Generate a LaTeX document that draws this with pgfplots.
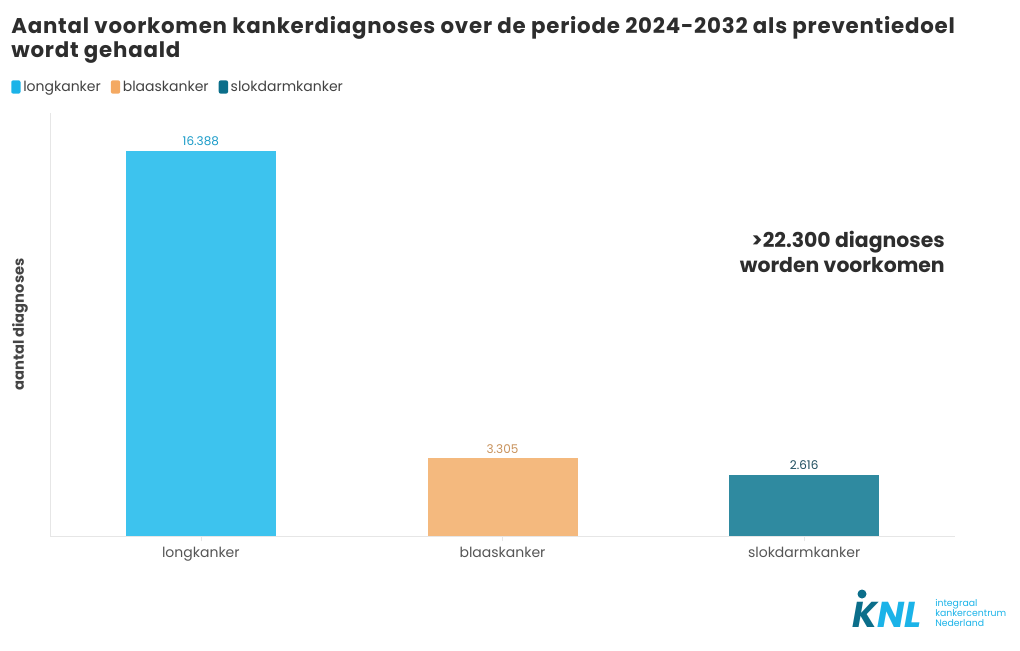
\documentclass[border=0pt]{standalone}
\usepackage{fontspec}
\setmainfont{Poppins}
\usepackage{pgfplots}
\pgfplotsset{compat=1.18}
\definecolor{cLong}{HTML}{3DC3EE}
\definecolor{cLongL}{HTML}{1BB3E8}
\definecolor{cLongT}{HTML}{1A9BC8}
\definecolor{cBlaas}{HTML}{F4B97E}
\definecolor{cBlaasL}{HTML}{F4A962}
\definecolor{cBlaasT}{HTML}{C8915A}
\definecolor{cSlok}{HTML}{2F8AA0}
\definecolor{cSlokL}{HTML}{0B6E8A}
\definecolor{cSlokT}{HTML}{1E4D5E}
\definecolor{cTitle}{HTML}{2D2D2D}
\definecolor{cGrid}{HTML}{E6E6E6}
\definecolor{cTick}{HTML}{555555}
\begin{document}
\begin{tikzpicture}[x=0.75pt,y=-0.75pt]
\path[use as bounding box] (0,0) rectangle (1020,650);
\begin{axis}[
  at={(37.5pt,-402pt)}, anchor=south west,
  scale only axis, width=678.75pt, height=317.25pt,
  xmin=-0.5, xmax=2.5, ymin=0, ymax=18000,
  axis x line*=bottom, axis y line*=left,
  axis line style={draw=cGrid, -},
  ytick=\empty,
  xtick={0,1,2}, xticklabels={longkanker,blaaskanker,slokdarmkanker},
  xtick align=outside, major tick length=4pt,
  xtick style={draw=cGrid},
  xticklabel style={font=\fontsize{10.5}{12}\selectfont, text=cTick, yshift=-1pt},
  ylabel={\textbf{aantal diagnoses}},
  ylabel style={at={(axis description cs:-0.0331,0.5)}, anchor=center, font=\fontsize{11}{13}\selectfont, text=cTick!80!black},
  ybar, bar width=112.5pt, bar shift=0pt,
  /pgf/number format/assume math mode=true,
  /pgf/number format/1000 sep={.},
  nodes near coords,
  nodes near coords style={font=\fontsize{9}{11}\selectfont, yshift=0pt},
  legend columns=3,
  legend style={at={(axis description cs:-0.0431,1.0615)}, anchor=west, draw=none, fill=none, inner sep=0pt,
    font=\fontsize{10.5}{12}\selectfont, text=cTitle!90,
    /tikz/every even column/.append style={column sep=5.5pt}},
  legend cell align=left,
]
\addplot[draw=none, fill=cLong, every node near coord/.append style={text=cLongT},
  legend image code/.code={\fill[cLongL, rounded corners=1.5pt] (0pt,-5pt) rectangle (7pt,5pt);}]
  coordinates {(0,16388)};
\addlegendentry{longkanker}
\addplot[draw=none, fill=cBlaas, every node near coord/.append style={text=cBlaasT},
  legend image code/.code={\fill[cBlaasL, rounded corners=1.5pt] (0pt,-5pt) rectangle (7pt,5pt);}]
  coordinates {(1,3305)};
\addlegendentry{blaaskanker}
\addplot[draw=none, fill=cSlok, every node near coord/.append style={text=cSlokT},
  legend image code/.code={\fill[cSlokL, rounded corners=1.5pt] (0pt,-5pt) rectangle (7pt,5pt);}]
  coordinates {(2,2616)};
\addlegendentry{slokdarmkanker}
\end{axis}
% title
\node[anchor=base west, inner sep=0pt, text=cTitle, font=\fontsize{16}{19}\selectfont\bfseries\addfontfeatures{LetterSpace=3.6}] at (11,33) {Aantal voorkomen kankerdiagnoses over de periode 2024-2032 als preventiedoel};
\node[anchor=base west, inner sep=0pt, text=cTitle, font=\fontsize{16}{19}\selectfont\bfseries\addfontfeatures{LetterSpace=3.6}] at (11,57) {wordt gehaald};
% annotation
\node[anchor=base east, inner sep=0pt, text=cTitle, font=\fontsize{15.3}{18}\selectfont\bfseries] at (945,247) {>22.300 diagnoses};
\node[anchor=base east, inner sep=0pt, text=cTitle, font=\fontsize{15.3}{18}\selectfont\bfseries] at (945,272) {worden voorkomen};
% logo
\fill[cSlokL] (862,594) circle (4.5);
\node[anchor=base west, inner sep=0pt, font=\fontsize{27}{30}\selectfont\bfseries\itshape] at (852,627) {\textcolor{cSlokL}{K}\textcolor{cLongL}{NL}};
\node[anchor=north west, inner sep=0pt, align=left, text=cLongL, font=\fontsize{7}{7.6}\selectfont] at (935,599) {integraal\\kankercentrum\\Nederland};
\end{tikzpicture}
\end{document}
